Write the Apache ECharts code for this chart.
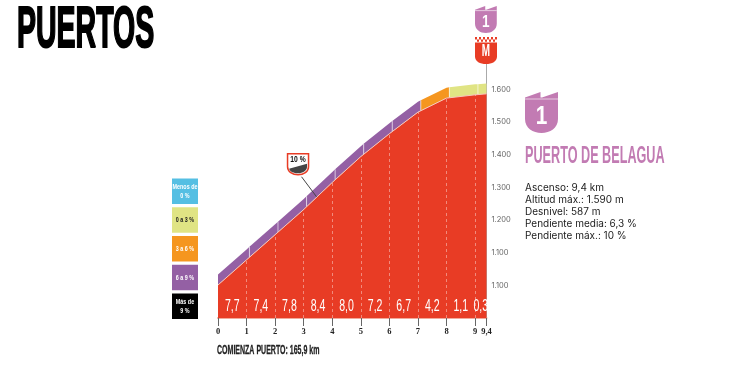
<!DOCTYPE html>
<html>
<head>
<meta charset="utf-8">
<style>
  html, body { margin: 0; padding: 0; background: #fff; }
  #chart { width: 741px; height: 367px; }
</style>
<script src="https://cdn.jsdelivr.net/npm/echarts@6/dist/echarts.min.js"></script>
</head>
<body>
<div id="chart"></div>
<script>
// Profile
const kmPoints = [0, 1, 2, 3, 4, 5, 6, 7, 8, 9, 9.4];
const elevation = [1001, 1078, 1155, 1232, 1315, 1394, 1464, 1530, 1573, 1583, 1586];
const gradients = ["7,7", "7,4", "7,8", "8,4", "8,0", "7,2", "6,7", "4,2", "1,1", "0,3"];
const yTickLabels = ["", "1.100", "1.100", "1.200", "1.300", "1.400", "1.500", "1.600", ""];
const legendLabels = ["Menos de\n0 %", "0 a 3 %", "3 a 6 %", "6 a 9 %", "Más de\n9 %"];
const legendLimits = [0, 3, 6, 9];
const steepPoint = [3.45, 1271];
const statLines = [
  "Ascenso: 9,4 km",
  "Altitud máx.: 1.590 m",
  "Desnivel: 587 m",
  "Pendiente media: 6,3 %",
  "Pendiente máx.: 10 %"
];

const NARROW = '"Liberation Sans Narrow", "Liberation Sans"';
const legendColors = ["#55bfe3", "#e0e484", "#f5961f", "#9460a4", "#000000"];
const legendText = ["#fff", "#222", "#fff", "#fff", "#fff"];
const RED = "#e83c25";
const PINK = "#c27bb3";

// Colour of a stretch comes from its gradient
const gradientColor = (text) => {
  const g = parseFloat(text.replace(",", "."));
  let i = legendLimits.findIndex((limit) => g < limit);
  if (i < 0) i = legendLimits.length;
  return legendColors[i];
};

const bandRows = gradients.map((g, i) => [kmPoints[i], kmPoints[i + 1], i]);
const gradientRows = gradients.map((g, i) => [
  (kmPoints[i] + kmPoints[i + 1]) / 2, 934, g
]);

const BAND_UP = 32; // metres
const BAND_SHIFT = 0.1; // km, colour breaks sit just right of each tick
const LAST_KM = kmPoints[kmPoints.length - 1];

// Height of the profile at any km
const profileAt = (km) => {
  let i = kmPoints.findIndex((k) => k > km) - 1;
  if (i < 0) i = kmPoints.length - 2;
  const t = (km - kmPoints[i]) / (kmPoints[i + 1] - kmPoints[i]);
  return elevation[i] + t * (elevation[i + 1] - elevation[i]);
};

const renderBand = (params, api) => {
  const k0 = api.value(0), k1 = api.value(1);
  const g = gradients[api.value(2)];
  const a = k0 === 0 ? 0 : k0 + BAND_SHIFT;
  const b = k1 === LAST_KM ? LAST_KM : k1 + BAND_SHIFT;
  const kms = b > k1 ? [a, k1, b] : [a, b];
  const lower = kms.map((k) => api.coord([k, profileAt(k)]));
  const upper = kms.map((k) => api.coord([k, profileAt(k) + BAND_UP])).reverse();
  const children = [{
    type: "polygon",
    shape: { points: lower.concat(upper) },
    style: { fill: gradientColor(g) }
  }];
  if (k0 !== 0) {
    const p = api.coord([a, profileAt(a)]);
    const q = api.coord([a, profileAt(a) + BAND_UP]);
    children.push({
      type: "line",
      shape: { x1: p[0], y1: p[1], x2: q[0], y2: q[1] },
      style: { stroke: "rgba(255,255,255,0.6)", lineWidth: 1 }
    });
  }
  return { type: "group", children };
};

const renderGradient = (params, api) => {
  const p = api.coord([api.value(0), api.value(1)]);
  return {
    type: "text",
    x: p[0],
    y: p[1],
    scaleX: 0.66,
    style: {
      text: gradientRows[params.dataIndex][2],
      font: '16px ' + NARROW,
      fill: "#fff",
      textAlign: "center",
      textVerticalAlign: "middle"
    }
  };
};

const renderFlag = (params, api) => {
  const p = api.coord([api.value(0), api.value(1)]);
  const x = p[0] - 29, y = p[1] - 43;
  return {
    type: "group",
    x, y,
    children: [
      { type: "line", shape: { x1: 14, y1: 23, x2: 29, y2: 43 }, style: { stroke: "#444", lineWidth: 1 } },
      { type: "path", shape: { pathData: "M0 0 H21 V13 C21 18 16 21 10.5 21 C5 21 0 18 0 13 Z" },
        style: { fill: "#fff", stroke: RED, lineWidth: 1.5 } },
      { type: "path", shape: { pathData: "M1.5 15 L19.5 10 V13 C19.5 17 15 19.5 10.5 19.5 C6 19.5 2.5 18 1.5 15 Z" },
        style: { fill: "#444" } },
      { type: "text", x: 10.5, y: 6, scaleX: 0.75,
        style: { text: "10 %", font: 'bold 9px ' + NARROW, fill: "#111", textAlign: "center", textVerticalAlign: "middle" } }
    ]
  };
};

// Little shield used at the summit and next to the stats
const shield = (x, y, scale, number, numberSize) => ({
  type: "group",
  x, y,
  children: [
    { type: "path", scaleX: scale, scaleY: scale,
      shape: { pathData: "M0 5.5 L15.5 0 V5.5 H17 L33 0 V27 C33 36 25 41 16.5 41 C8 41 0 36 0 27 Z" },
      style: { fill: PINK } },
    { type: "line", shape: { x1: 0, y1: 7 * scale, x2: 33 * scale, y2: 7 * scale },
      style: { stroke: "rgba(255,255,255,0.6)", lineWidth: 1 } },
    { type: "text", x: 16.5 * scale, y: 25 * scale, scaleX: 0.8,
      style: { text: number, font: "bold " + numberSize + "px " + NARROW, fill: "#fff",
        textAlign: "center", textVerticalAlign: "middle" } }
  ]
});

const checkers = [];
for (let row = 0; row < 2; row++) {
  for (let col = 0; col < 11; col++) {
    if ((row + col) % 2 === 0) {
      checkers.push({ type: "rect", shape: { x: col * 2, y: row * 2.4, width: 2, height: 2.4 }, style: { fill: RED } });
    }
  }
}

// Badges need path elements, which only custom series have
const renderBadges = () => ({
  type: "group",
  children: [
    shield(475, 6, 0.66, "1", 17),
    { type: "group", x: 475, y: 37, children: checkers },
    { type: "path", x: 475, y: 42.5,
      shape: { pathData: "M0 0 H22 V14 C22 19 17 21.5 11 21.5 C5 21.5 0 19 0 14 Z" },
      style: { fill: RED } },
    { type: "text", x: 486, y: 52, scaleX: 0.62,
      style: { text: "M", font: 'bold 16px ' + NARROW, fill: "#fff", textAlign: "center", textVerticalAlign: "middle" } },
    shield(525, 92, 1, "1", 26)
  ]
});

const legendGraphics = legendLabels.map((label, i) => ({
  type: "group",
  x: 172,
  y: 178.5 + i * 28.75,
  children: [
    { type: "rect", shape: { x: 0, y: 0, width: 26, height: 25.5 }, style: { fill: legendColors[i] } },
    { type: "text", x: 13, y: 13, scaleX: 0.72,
      style: { text: label, font: 'bold 7.5px ' + NARROW, lineHeight: 9, fill: legendText[i],
        textAlign: "center", textVerticalAlign: "middle" } }
  ]
}));

const chart = echarts.init(document.getElementById("chart"));

chart.setOption({
  animation: false,
  backgroundColor: "#fff",
  grid: { left: 218, right: 254.5, top: 56.6, bottom: 49 },
  xAxis: {
    type: "value",
    min: 0,
    max: 9.4,
    interval: 1,
    splitLine: { show: false },
    axisLine: { onZero: false, lineStyle: { color: "#f1a99a", width: 2 } },
    axisTick: { length: 8, lineStyle: { color: "#666" } },
    axisLabel: {
      margin: 9,
      showMaxLabel: true,
      color: "#222",
      fontFamily: "Liberation Sans Narrow",
      fontWeight: "bold",
      fontSize: 8.5,
      formatter: (v) => String(v).replace(".", ",")
    }
  },
  yAxis: {
    type: "value",
    position: "right",
    min: 900,
    max: 1700,
    interval: 100,
    splitLine: { show: false },
    axisLine: { show: true, onZero: false, lineStyle: { color: "#aaa", width: 1 } },
    axisTick: { show: false },
    axisLabel: {
      margin: 5,
      color: "#666",
      fontFamily: "Inter",
      fontSize: 7.5,
      formatter: (v) => yTickLabels[(v - 900) / 100]
    }
  },
  series: [
    {
      type: "line",
      data: kmPoints.map((k, i) => [k, elevation[i]]),
      showSymbol: false,
      z: 3,
      lineStyle: { color: "#f6c9bb", width: 1 },
      areaStyle: { color: RED, opacity: 1 },
      markLine: {
        silent: true,
        symbol: "none",
        label: { show: false },
        lineStyle: { color: "rgba(255,255,255,0.4)", type: [3, 3], width: 1 },
        data: kmPoints.slice(1, -1).map((k, i) => [
          { coord: [k, 900] },
          { coord: [k, elevation[i + 1]] }
        ])
      }
    },
    { type: "custom", renderItem: renderBand, data: bandRows, z: 2, silent: true },
    { type: "custom", renderItem: renderGradient, data: gradientRows, z: 5, silent: true },
    { type: "custom", renderItem: renderFlag, data: [steepPoint], z: 6, silent: true },
    { type: "custom", renderItem: renderBadges, data: [[9.4, 1590]], z: 7, silent: true, clip: false }
  ],
  graphic: [
    { type: "text", x: 17, y: 31, scaleX: 0.5,
      style: { text: "PUERTOS", font: 'bold 57px ' + NARROW, fill: "#000", stroke: "#000", lineWidth: 2,
        textVerticalAlign: "middle" } },
    { type: "text", x: 525, y: 157, scaleX: 0.55,
      style: { text: "PUERTO DE BELAGUA", font: 'bold 23px ' + NARROW, fill: PINK, textVerticalAlign: "middle" } },
    ...statLines.map((line, i) => ({
      type: "text", x: 525, y: 188 + i * 12,
      style: { text: line, font: '10px Inter', fill: "#222", textVerticalAlign: "middle" }
    })),
    { type: "text", x: 217, y: 350, scaleX: 0.54,
      style: { text: "COMIENZA PUERTO: 165,9 km", font: 'bold 13px ' + NARROW, fill: "#222", stroke: "#222", lineWidth: 0.3, textVerticalAlign: "middle" } },
    ...legendGraphics
  ]
});
</script>
</body>
</html>
